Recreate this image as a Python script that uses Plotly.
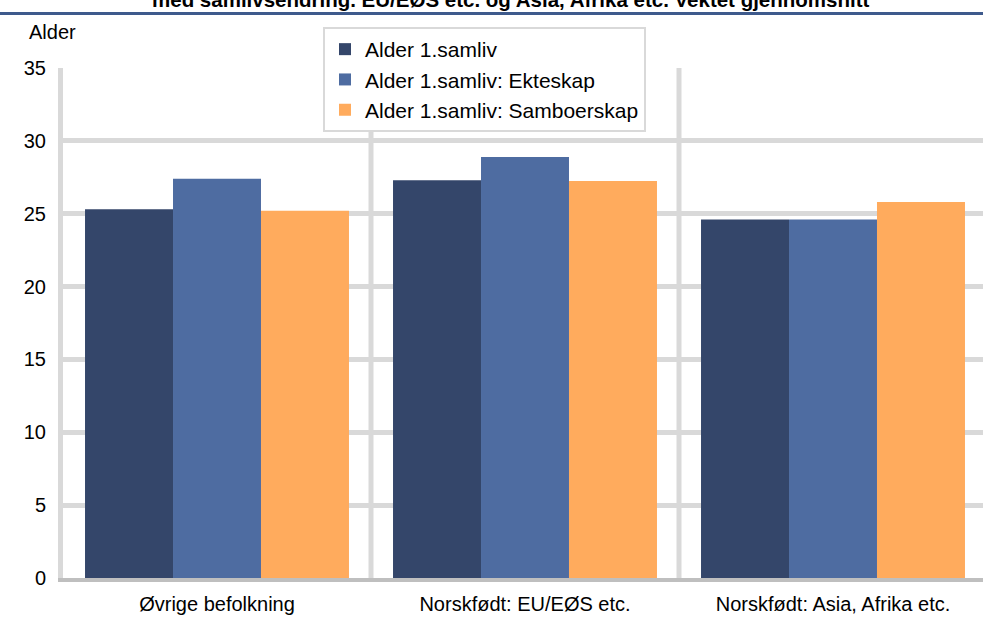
import plotly.graph_objects as go

categories = ["Øvrige befolkning", "Norskfødt: EU/EØS etc.", "Norskfødt: Asia, Afrika etc."]
series_names = ["Alder 1.samliv", "Alder 1.samliv: Ekteskap", "Alder 1.samliv: Samboerskap"]
alder_samliv = [25.3, 27.3, 24.6]
alder_ekteskap = [27.4, 28.9, 24.6]
alder_samboerskap = [25.2, 27.25, 25.8]
y_ticks = [0, 5, 10, 15, 20, 25, 30, 35]
title_text = "med samlivsendring. EU/EØS etc. og Asia, Afrika etc. Vektet gjennomsnitt"
y_title = "Alder"

colors = ["#34466A", "#4E6CA1", "#FFAB5D"]
FONT = "Liberation Sans, Arial, sans-serif"

fig = go.Figure()
for i, (name, vals) in enumerate(zip(series_names, [alder_samliv, alder_ekteskap, alder_samboerskap])):
    fig.add_trace(go.Bar(
        x=categories, y=vals, name=name,
        marker=dict(color=colors[i], line=dict(width=0)),
        legendgroup=f"g{i}",
    ))

W, H = 983, 619
L, T, B = 63, 68, 41
cat_w = 308
plot_w = W - L
x_span = plot_w / cat_w

fig.update_layout(
    width=W, height=H,
    margin=dict(l=L, r=0, t=T, b=B, pad=0, autoexpand=False),
    paper_bgcolor="white", plot_bgcolor="white",
    font=dict(family=FONT, size=20, color="#000000"),
    barmode="group", bargap=0.143, bargroupgap=0,
    showlegend=True,
    legend=dict(
        x=(323 - L) / plot_w, y=(578 - 27) / 510, xanchor="left", yanchor="top",
        bgcolor="white", bordercolor="#D9D9D9", borderwidth=2,
        font=dict(family=FONT, size=21, color="#000000"),
        traceorder="grouped", tracegroupgap=0,
    ),
    xaxis=dict(
        type="category", range=[-0.5, -0.5 + x_span], automargin=False,
        showgrid=False, showline=True, linecolor="#BFBFBF", linewidth=4,
        ticks="", ticklabelstandoff=5, tickfont=dict(size=20),
        fixedrange=True,
    ),
    yaxis=dict(
        range=[0, 35], tickvals=y_ticks, ticktext=[str(v) for v in y_ticks], automargin=False,
        showgrid=True, gridcolor="#D9D9D9", gridwidth=5,
        zeroline=False, showline=True, linecolor="#D9D9D9", linewidth=5,
        ticks="", ticklabelstandoff=8, tickfont=dict(size=20),
    ),
)

for xb in [0.5, 1.5]:
    fig.add_shape(type="line", xref="x", yref="paper", x0=xb, x1=xb, y0=0, y1=1,
                  line=dict(color="#D9D9D9", width=5), layer="below")

# header rule
fig.add_shape(type="line", xref="paper", yref="paper",
              x0=(0 - L) / plot_w, x1=(W - L) / plot_w,
              y0=(578 - 13.5) / 510, y1=(578 - 13.5) / 510,
              line=dict(color="#3E5A8C", width=3))

fig.add_annotation(text=f"<b>{title_text}</b>", xref="paper", yref="paper",
                   x=(510 - L) / plot_w, y=(578 + 0.5) / 510, xanchor="center", yanchor="middle",
                   showarrow=False, font=dict(family=FONT, size=20.5, color="#000000"))

fig.add_annotation(text=y_title, xref="paper", yref="paper",
                   x=(27 - L) / plot_w, y=(578 - 32) / 510, xanchor="left", yanchor="middle",
                   showarrow=False, font=dict(family=FONT, size=20, color="#000000"))

fig.write_html("out.html", config={"displayModeBar": False},
               post_script="document.body.style.margin='0';document.body.style.overflow='hidden';")
